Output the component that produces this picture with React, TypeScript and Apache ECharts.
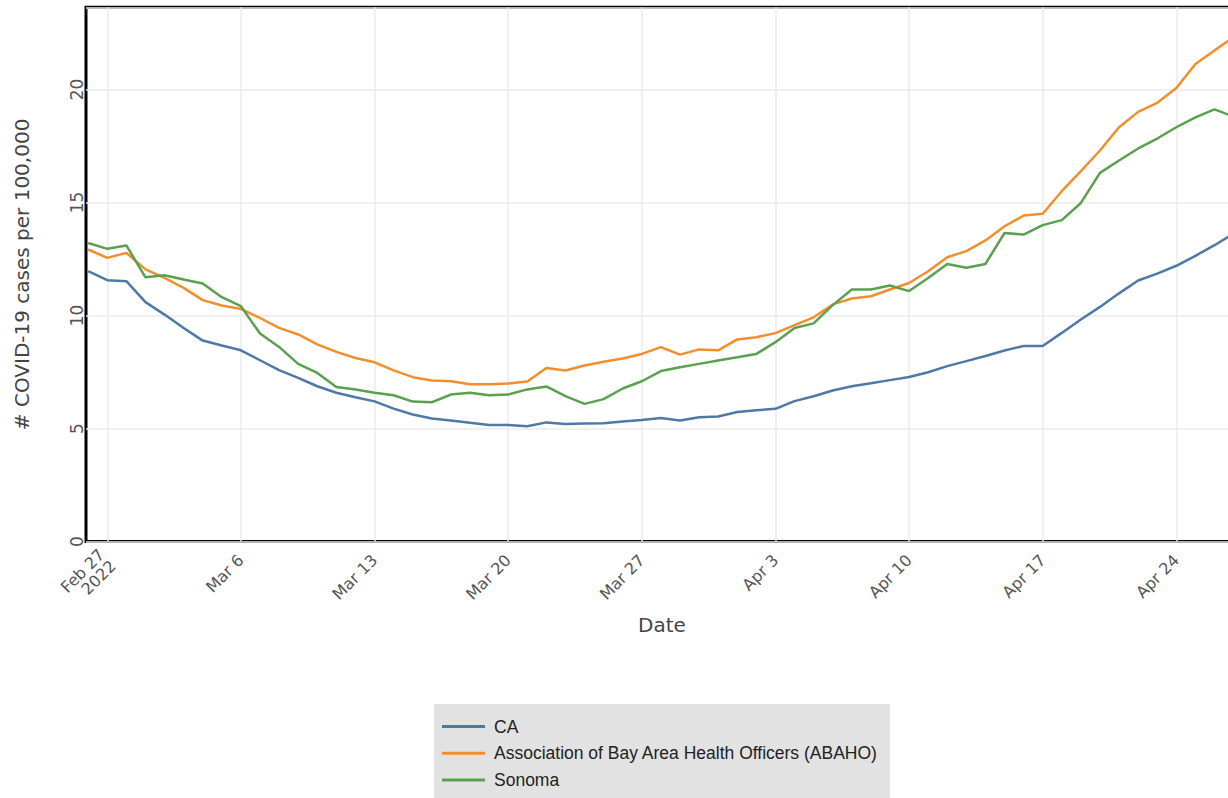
import React, { useEffect, useRef } from "react";
import * as echarts from "echarts";

const dates = [
  "2022-02-26", "2022-02-27", "2022-02-28",
  "2022-03-01", "2022-03-02", "2022-03-03", "2022-03-04", "2022-03-05", "2022-03-06", "2022-03-07",
  "2022-03-08", "2022-03-09", "2022-03-10", "2022-03-11", "2022-03-12", "2022-03-13", "2022-03-14",
  "2022-03-15", "2022-03-16", "2022-03-17", "2022-03-18", "2022-03-19", "2022-03-20", "2022-03-21",
  "2022-03-22", "2022-03-23", "2022-03-24", "2022-03-25", "2022-03-26", "2022-03-27", "2022-03-28",
  "2022-03-29", "2022-03-30", "2022-03-31",
  "2022-04-01", "2022-04-02", "2022-04-03", "2022-04-04", "2022-04-05", "2022-04-06", "2022-04-07",
  "2022-04-08", "2022-04-09", "2022-04-10", "2022-04-11", "2022-04-12", "2022-04-13", "2022-04-14",
  "2022-04-15", "2022-04-16", "2022-04-17", "2022-04-18", "2022-04-19", "2022-04-20", "2022-04-21",
  "2022-04-22", "2022-04-23", "2022-04-24", "2022-04-25", "2022-04-26", "2022-04-27",
];

const caValues = [
  11.96, 11.56, 11.52,
  10.59, 10.04, 9.45, 8.89, 8.67, 8.46, 8.02,
  7.58, 7.24, 6.87, 6.58, 6.38, 6.2, 5.88,
  5.62, 5.44, 5.35, 5.25, 5.16, 5.16, 5.1,
  5.27, 5.2, 5.22, 5.23, 5.31, 5.38, 5.46,
  5.35, 5.5, 5.53,
  5.73, 5.81, 5.87, 6.21, 6.43, 6.68, 6.87,
  7.0, 7.14, 7.28, 7.49, 7.76, 7.98, 8.21,
  8.45, 8.65, 8.65, 9.23, 9.82, 10.38, 10.98,
  11.55, 11.85, 12.2, 12.64, 13.11, 13.62,
];

const abahoValues = [
  12.92, 12.55, 12.77,
  12.04, 11.66, 11.22, 10.68, 10.44, 10.29, 9.89,
  9.45, 9.16, 8.72, 8.39, 8.12, 7.93, 7.57,
  7.27, 7.12, 7.09, 6.96, 6.96, 6.99, 7.08,
  7.68, 7.57, 7.79, 7.95, 8.1, 8.3, 8.6,
  8.27, 8.5, 8.46,
  8.94, 9.04, 9.22, 9.57, 9.92, 10.49, 10.75,
  10.85, 11.15, 11.44, 11.96, 12.58, 12.85, 13.32,
  13.95, 14.42, 14.5, 15.5, 16.39, 17.3, 18.33,
  19.01, 19.41, 20.07, 21.13, 21.73, 22.32,
];

const sonomaValues = [
  13.21, 12.95, 13.1,
  11.69, 11.78, 11.59, 11.42, 10.81, 10.41, 9.2,
  8.61, 7.86, 7.46, 6.84, 6.73, 6.58, 6.47,
  6.19, 6.16, 6.5, 6.58, 6.47, 6.5, 6.73,
  6.86, 6.43, 6.09, 6.3, 6.77, 7.09, 7.54,
  7.71, 7.86, 8.01,
  8.15, 8.3, 8.82, 9.45, 9.65, 10.46, 11.15,
  11.15, 11.33, 11.08, 11.66, 12.28, 12.11, 12.28,
  13.65, 13.58, 14.0, 14.22, 14.98, 16.31, 16.86,
  17.39, 17.83, 18.33, 18.77, 19.12, 18.8,
];

const seriesNames = ["CA", "Association of Bay Area Health Officers (ABAHO)", "Sonoma"];
const seriesColors = ["#4e79a7", "#f28e2b", "#59a14f"];

const tickDates = [
  "2022-02-27", "2022-03-06", "2022-03-13", "2022-03-20", "2022-03-27",
  "2022-04-03", "2022-04-10", "2022-04-17", "2022-04-24",
];
const tickLabels = [
  "Feb 27\n2022", "Mar 6", "Mar 13", "Mar 20", "Mar 27",
  "Apr 3", "Apr 10", "Apr 17", "Apr 24",
];

const yTicks = [0, 5, 10, 15, 20];

const START = Date.parse(dates[0] + "T00:00:00Z");
const dayOf = (s: string) => Math.round((Date.parse(s + "T00:00:00Z") - START) / 86400000);

export default function App() {
  const ref = useRef<HTMLDivElement>(null);
  useEffect(() => {
    if (!ref.current) return;
    const chart = echarts.init(ref.current, null, { renderer: "svg" });
    const tickX = tickDates.map(dayOf);
    const labelFor = (v: number) => {
      const i = tickX.findIndex((t) => Math.abs(t - v) < 0.01);
      return i >= 0 ? tickLabels[i] : "";
    };
    const allValues = [caValues, abahoValues, sonomaValues];
    const axisFont = "'DejaVu Sans', Verdana, sans-serif";
    chart.setOption({
      animation: false,
      backgroundColor: "#ffffff",
      grid: {
        left: 86,
        top: 7.3,
        right: -20,
        bottom: 256.5,
        show: true,
        borderColor: "#000",
        borderWidth: 3,
        backgroundColor: "transparent",
        containLabel: false,
        outerBoundsMode: "none",
      },
      legend: {
        data: seriesNames,
        orient: "vertical",
        left: 434,
        top: 704,
        height: 160,
        padding: [13, 12, 13, 8],
        backgroundColor: "#e2e2e2",
        borderRadius: 0,
        icon: "rect",
        itemWidth: 43,
        itemHeight: 3,
        itemGap: 7.7,
        selectedMode: false,
        textStyle: {
          fontFamily: "'Liberation Sans', Arial, sans-serif",
          fontSize: 17.5,
          color: "#222",
          lineHeight: 19,
          padding: [0, 0, 0, 4],
        },
      },
      xAxis: {
        type: "value",
        min: -0.115,
        max: 60.755,
        name: "Date",
        nameLocation: "middle",
        nameGap: 73,
        nameTextStyle: { fontFamily: axisFont, fontSize: 20, color: "#444", padding: [0, 10, 0, 0] },
        axisLine: { show: false },
        axisTick: { show: false, customValues: tickX },
        axisLabel: {
          customValues: tickX,
          rotate: 45,
          margin: 16,
          fontFamily: axisFont,
          fontSize: 16,
          color: "#555",
          formatter: (v: number) => labelFor(v),
        },
        splitLine: { show: true, lineStyle: { color: "#ebebeb", width: 1.5 } },
      },
      yAxis: {
        type: "value",
        min: 0,
        max: 23.637,
        interval: 5,
        name: "# COVID-19 cases per 100,000",
        nameLocation: "middle",
        nameGap: 54,
        nameTextStyle: { fontFamily: axisFont, fontSize: 20, color: "#444" },
        axisLine: { show: false },
        axisTick: { show: false },
        axisLabel: {
          rotate: 90,
          margin: 1,
          showMaxLabel: false,
          fontFamily: axisFont,
          fontSize: 17,
          color: "#555",
          formatter: (v: number) => (yTicks.includes(v) ? String(v) : ""),
        },
        splitLine: { show: true, lineStyle: { color: "#ebebeb", width: 1.5 } },
      },
      series: seriesNames.map((name, si) => ({
        name,
        type: "line",
        symbol: "none",
        showSymbol: false,
        clip: true,
        color: seriesColors[si],
        lineStyle: { color: seriesColors[si], width: 2.5 },
        data: dates.map((d, i) => [dayOf(d), allValues[si][i]]),
      })),
    });
    return () => chart.dispose();
  }, []);
  return (
    <div
      ref={ref}
      style={{ position: "absolute", left: 0, top: 0, width: 1228, height: 798 }}
    />
  );
}
